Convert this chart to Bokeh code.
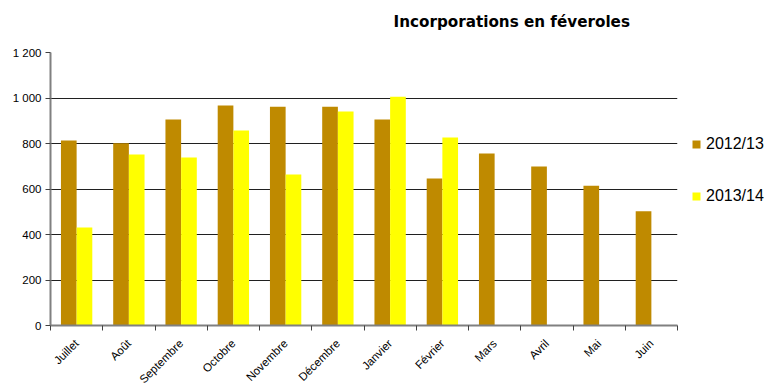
import math
from bokeh.plotting import figure
from bokeh.models import (ColumnDataSource, Range1d, LinearAxis,
                          FixedTicker, CustomJSTickFormatter, Legend, LegendItem, Title)
from bokeh.transform import dodge
from bokeh.embed import file_html
from bokeh.resources import INLINE

months = ["Juillet", "Août", "Septembre", "Octobre", "Novembre", "Décembre",
          "Janvier", "Février", "Mars", "Avril", "Mai", "Juin"]
s2012 = [813, 801, 905, 967, 962, 962, 905, 646, 756, 699, 614, 502]
s2013 = [431, 752, 738, 857, 664, 941, 1006, 826, None, None, None, None]
y_ticks = [0, 200, 400, 600, 800, 1000, 1200]
title_text = "Incorporations en féveroles"
series_names = ["2012/13", "2013/14"]

C1 = "#BF8A00"
C2 = "#FFFF00"
FONT = "Liberation Sans"

n = len(months)
centers = [i + 0.5 for i in range(n)]
bounds = list(range(n + 1))
src = ColumnDataSource(dict(x=centers, a=s2012,
                            b=[v if v is not None else float("nan") for v in s2013]))

p = figure(x_range=Range1d(0, n), y_range=Range1d(0, 1200),
           frame_width=627, frame_height=273, output_backend="svg",
           toolbar_location=None, x_axis_location=None, y_axis_location=None,
           min_border_left=50, min_border_right=10, min_border_top=52, min_border_bottom=10)
p.outline_line_color = None
p.background_fill_color = "white"
p.border_fill_color = "white"

r1 = p.vbar(x=dodge("x", -0.15), top="a", width=0.3, source=src,
            fill_color=C1, line_color=None)
r2 = p.vbar(x=dodge("x", 0.15), top="b", width=0.3, source=src,
            fill_color=C2, line_color=None)

# y axis
yax = LinearAxis(ticker=FixedTicker(ticks=y_ticks))
yax.formatter = CustomJSTickFormatter(code="""
    const s = Math.round(tick).toString();
    return s.replace(/\\B(?=(\\d{3})+(?!\\d))/g, ' ');
""")
yax.axis_line_color = "#808080"
yax.axis_line_width = 2
yax.major_tick_line_color = "#404040"
yax.major_tick_out = 5
yax.major_tick_in = 0
yax.minor_tick_line_color = None
yax.major_label_text_font = FONT
yax.major_label_text_font_size = "11.5px"
yax.major_label_text_color = "#000000"
yax.major_label_standoff = 4
p.add_layout(yax, "left")

# x axis: labels at category centers, minor ticks at category boundaries
xax = LinearAxis(ticker=FixedTicker(ticks=centers, minor_ticks=bounds))
xax.major_label_overrides = {c: m for c, m in zip(centers, months)}
xax.axis_line_color = "#808080"
xax.axis_line_width = 2
xax.major_tick_line_color = None
xax.minor_tick_line_color = "#404040"
xax.minor_tick_out = 5
xax.minor_tick_in = 0
xax.major_tick_out = 5
xax.major_tick_in = 0
xax.major_label_orientation = math.pi / 4
xax.major_label_text_font = FONT
xax.major_label_text_font_size = "11.5px"
xax.major_label_text_color = "#000000"
xax.major_label_standoff = 11
p.add_layout(xax, "below")

p.xgrid.grid_line_color = None
p.ygrid.ticker = FixedTicker(ticks=y_ticks[1:])
p.ygrid.grid_line_color = "#202020"
p.ygrid.grid_line_width = 1.2

legend = Legend(items=[LegendItem(label=series_names[0], renderers=[r1]),
                       LegendItem(label=series_names[1], renderers=[r2])],
                location=(14, 120), orientation="vertical")
legend.border_line_color = None
legend.background_fill_alpha = 0
legend.label_text_font = FONT
legend.label_text_font_size = "16px"
legend.label_text_color = "#000000"
legend.glyph_width = 10
legend.glyph_height = 10
legend.label_height = 16
legend.spacing = 34
legend.label_standoff = 5
legend.padding = 0
legend.margin = 17
p.add_layout(legend, "right")

p.title = Title(text=title_text + "\n", align="left", offset=343, text_font="DejaVu Sans",
                text_font_size="15.2px", text_font_style="bold", text_color="#000000",
                standoff=7)

open("out.html", "w").write(file_html(p, INLINE))
